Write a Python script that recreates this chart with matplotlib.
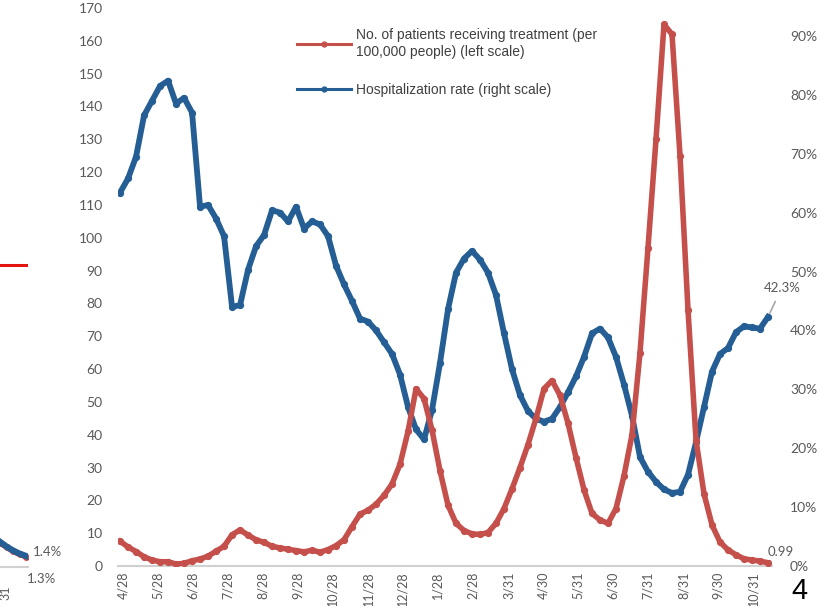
import matplotlib
matplotlib.use("Agg")
import matplotlib.pyplot as plt
from matplotlib.lines import Line2D
import pandas as pd

# ---------------- data ----------------
dates = pd.date_range("2020-04-25", periods=82, freq="7D")

patients = [7.5, 5.8, 4.4, 2.8, 1.8, 1.3, 1.3, 0.6, 0.8, 1.6,
            2.1, 3.0, 4.5, 6.0, 9.5, 11.0, 9.4, 8.0, 7.2, 6.0,
            5.5, 5.1, 4.7, 4.3, 4.8, 4.2, 5.0, 6.2, 8.0, 12.0,
            15.8, 17.0, 18.8, 21.5, 25.0, 31.0, 41.0, 54.0, 51.0, 41.4,
            29.0, 18.5, 13.0, 10.8, 9.8, 9.6, 10.2, 13.0, 17.5, 23.5,
            30.0, 37.0, 45.0, 54.0, 56.5, 52.0, 43.5, 33.0, 23.2, 16.0,
            14.0, 13.0, 17.5, 27.5, 40.0, 65.0, 97.0, 130.0, 165.0, 162.0,
            125.0, 78.0, 38.4, 22.0, 12.5, 7.3, 4.9, 3.4, 2.2, 1.8,
            1.5, 0.99]

hosp_rate = [63.4, 65.8, 69.5, 76.5, 79.0, 81.5, 82.4, 78.5, 79.5, 77.0,
             61.0, 61.3, 59.0, 56.0, 44.0, 44.3, 50.3, 54.3, 56.2, 60.4,
             60.0, 58.5, 61.0, 57.3, 58.5, 58.0, 56.0, 51.0, 47.8, 45.0,
             42.0, 41.5, 40.0, 38.0, 36.0, 32.5, 27.0, 23.2, 21.5, 26.5,
             34.5, 43.6, 49.8, 52.2, 53.5, 52.0, 49.8, 46.0, 39.5, 33.4,
             29.0, 26.3, 25.0, 24.5, 25.0, 27.0, 29.5, 32.2, 35.5, 39.5,
             40.3, 38.8, 35.5, 30.8, 25.5, 18.5, 16.0, 14.3, 13.0, 12.4,
             12.6, 15.5, 21.0, 27.0, 33.0, 36.0, 37.0, 39.7, 40.7, 40.5,
             40.3, 42.3]

tick_dates = ["2020-04-28", "2020-05-28", "2020-06-28", "2020-07-28", "2020-08-28",
              "2020-09-28", "2020-10-28", "2020-11-28", "2020-12-28", "2021-01-28",
              "2021-02-28", "2021-03-31", "2021-04-30", "2021-05-31", "2021-06-30",
              "2021-07-31", "2021-08-31", "2021-09-30", "2021-10-31"]
tick_labels = ["4/28", "5/28", "6/28", "7/28", "8/28", "9/28", "10/28", "11/28",
               "12/28", "1/28", "2/28", "3/31", "4/30", "5/31", "6/30", "7/31",
               "8/31", "9/30", "10/31"]

left_ticks = list(range(0, 171, 10))
right_ticks = list(range(0, 91, 10))

legend_labels = ["No. of patients receiving treatment (per\n100,000 people) (left scale)",
                 "Hospitalization rate (right scale)"]

# fragment of neighbouring chart (cut at left edge)
frag_x = [0, 1, 2, 3, 4]
frag_blue = [3.2, 2.6, 2.1, 1.7, 1.4]
frag_red = [3.1, 2.5, 2.0, 1.6, 1.3]

# ---------------- style ----------------
RED = "#C5504B"
BLUE = "#245E94"
GREY = "#595959"
W, H = 822, 606

fig = plt.figure(figsize=(W / 100, H / 100), dpi=100)
fig.patch.set_facecolor("white")

def fx(px):
    return px / W

def fy(py):
    return 1 - py / H

ax_left, ax_right = 118, 772
ax_top, ax_bot = 8, 566
ax = fig.add_axes([fx(ax_left), fy(ax_bot), fx(ax_right - ax_left), (ax_bot - ax_top) / H])
ax2 = ax.twinx()

ax.plot(dates, patients, color=RED, lw=4.0, marker="o", ms=4.2, zorder=3,
        solid_joinstyle="round")
ax2.plot(dates, hosp_rate, color=BLUE, lw=4.2, marker="o", ms=4.2, zorder=3,
         solid_joinstyle="round")

ax.set_ylim(0, 170)
ax2.set_ylim(0, (567 - 8) / 5.9)
x0 = dates[0] - pd.Timedelta(days=1.8)
x1 = dates[-1] + pd.Timedelta(days=3.5)
ax.set_xlim(x0, x1)

for a in (ax, ax2):
    for s in a.spines.values():
        s.set_visible(False)
ax.spines["bottom"].set_visible(True)
ax.spines["bottom"].set_color("#D0D0D0")
ax.spines["bottom"].set_linewidth(1.5)
ax.set_zorder(ax2.get_zorder() + 1)
ax.patch.set_visible(False)

ax.set_yticks(left_ticks)
ax.set_yticklabels([str(t) for t in left_ticks])
ax.tick_params(axis="y", length=0, pad=11, labelsize=10, labelcolor=GREY)
ax2.set_yticks(right_ticks)
ax2.set_yticklabels([f"{t}%" for t in right_ticks])
ax2.tick_params(axis="y", length=0, pad=13, labelsize=10, labelcolor=GREY)

ax.set_xticks(pd.to_datetime(tick_dates))
ax.set_xticklabels(tick_labels, rotation=90)
ax.tick_params(axis="x", length=0, pad=4, labelsize=9, labelcolor=GREY)
for lab in ax.get_xticklabels() + ax.get_yticklabels() + ax2.get_yticklabels():
    lab.set_fontfamily("Lato")

# annotations
ax2.annotate("42.3%", xy=(dates[-1], hosp_rate[-1]), xytext=(10, 21),
             textcoords="offset points", ha="center", va="center",
             fontsize=9.5, color=GREY, family="Lato",
             arrowprops=dict(arrowstyle="-", color="#A6A6A6", lw=1.2,
                             shrinkA=4, shrinkB=3))
ax.annotate("0.99", xy=(dates[-1], patients[-1]), xytext=(9, 8),
            textcoords="offset points", ha="center", va="center",
            fontsize=9.5, color=GREY, family="Lato")

# legend
handles = [Line2D([0], [0], color=RED, lw=2.2, marker="o", ms=3.5),
           Line2D([0], [0], color=BLUE, lw=2.2, marker="o", ms=3.5)]
leg = fig.legend(handles, legend_labels, loc="upper left",
                 bbox_to_anchor=(fx(284), fy(16)), frameon=False,
                 handlelength=3.9, handletextpad=0.35, labelspacing=1.75,
                 prop={"family": "Liberation Sans", "size": 10})
for t in leg.get_texts():
    t.set_color("#404040")

# fragment of neighbouring chart at left edge
axf = fig.add_axes([0, fy(567), fx(28), (567 - 245) / H])
axf.set_xlim(0, 4.3)
axf.set_ylim(0, (567 - 245) / 7.86)
axf.plot(frag_x, frag_red, color=RED, lw=4, marker="o", ms=4)
axf.plot(frag_x, frag_blue, color=BLUE, lw=4.5)
axf.plot([0, 4.3], [0, 0], color="#D0D0D0", lw=1.5, clip_on=False)
axf.plot([0, 4.0], [(567 - 265) / 7.86] * 2, color="#E3140F", lw=2.2)
axf.axis("off")
fig.text(fx(33), fy(552), "1.4%", fontsize=9.5, color=GREY, family="Lato", va="center")
fig.text(fx(27), fy(579), "1.3%", fontsize=9.5, color=GREY, family="Lato", va="center")
fig.text(fx(5), fy(586), "31", fontsize=9, color=GREY, family="Lato",
         rotation=90, ha="center", va="top")

# page number
fig.text(fx(799), fy(605), "4", fontsize=21, color="black", family="Liberation Sans",
         ha="center", va="bottom")

fig.savefig("out.png", dpi=100)
